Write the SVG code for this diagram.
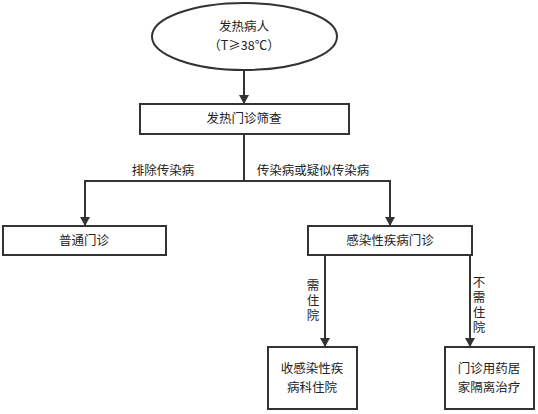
<svg xmlns="http://www.w3.org/2000/svg" width="538" height="414" viewBox="0 0 538 414">
<defs>
<marker id="arr" markerWidth="10" markerHeight="10" refX="8" refY="5" orient="auto" markerUnits="userSpaceOnUse">
<path d="M0,0 L9,5 L0,10 Z" fill="#333"/>
</marker>
<style>
.n{fill:#fff;stroke:#333;stroke-width:2}
.t{font-family:"Noto Sans CJK SC","Noto Sans",sans-serif;font-size:12.5px;fill:#222;text-anchor:middle}
.v{font-family:"Noto Sans CJK SC","Noto Sans",sans-serif;font-size:12.5px;fill:#222;writing-mode:vertical-rl;text-anchor:start;letter-spacing:2.5px}
.c{fill:none;stroke:#333;stroke-width:2}
</style>
</defs>
<rect width="538" height="414" fill="#fff"/>
<g id="connectors">
<path class="c" d="M244,70 V103" marker-end="url(#arr)"/>
<path class="c" d="M244,135 V181 H85 V225" marker-end="url(#arr)"/>
<path class="c" d="M244,181 H390 V225" marker-end="url(#arr)"/>
<path class="c" d="M325,255 V346" marker-end="url(#arr)"/>
<path class="c" d="M470,255 V346" marker-end="url(#arr)"/>
<text class="t" x="163" y="175">排除传染病</text>
<text class="t" x="313" y="175">传染病或疑似传染病</text>
<text class="v" x="313" y="279">需住院</text>
<text class="v" x="479" y="276">不需住院</text>
</g>
<g id="n1">
<ellipse class="n" cx="244.5" cy="36.5" rx="92.5" ry="33.5"/>
<text class="t" x="244" y="31">发热病人</text>
<text class="t" x="244" y="50">（T≥38℃）</text>
</g>
<g id="n2">
<rect class="n" x="140" y="104" width="209" height="30"/>
<text class="t" x="244" y="123">发热门诊筛查</text>
</g>
<g id="n3">
<rect class="n" x="3" y="226" width="163" height="29"/>
<text class="t" x="84" y="245">普通门诊</text>
</g>
<g id="n4">
<rect class="n" x="308" y="226" width="164" height="29"/>
<text class="t" x="390" y="245">感染性疾病门诊</text>
</g>
<g id="n5">
<rect class="n" x="268" y="347" width="89" height="62"/>
<text class="t" x="312" y="373">收感染性疾</text>
<text class="t" x="312" y="392">病科住院</text>
</g>
<g id="n6">
<rect class="n" x="445" y="347" width="89" height="62"/>
<text class="t" x="489" y="373">门诊用药居</text>
<text class="t" x="489" y="392">家隔离治疗</text>
</g>
</svg>
